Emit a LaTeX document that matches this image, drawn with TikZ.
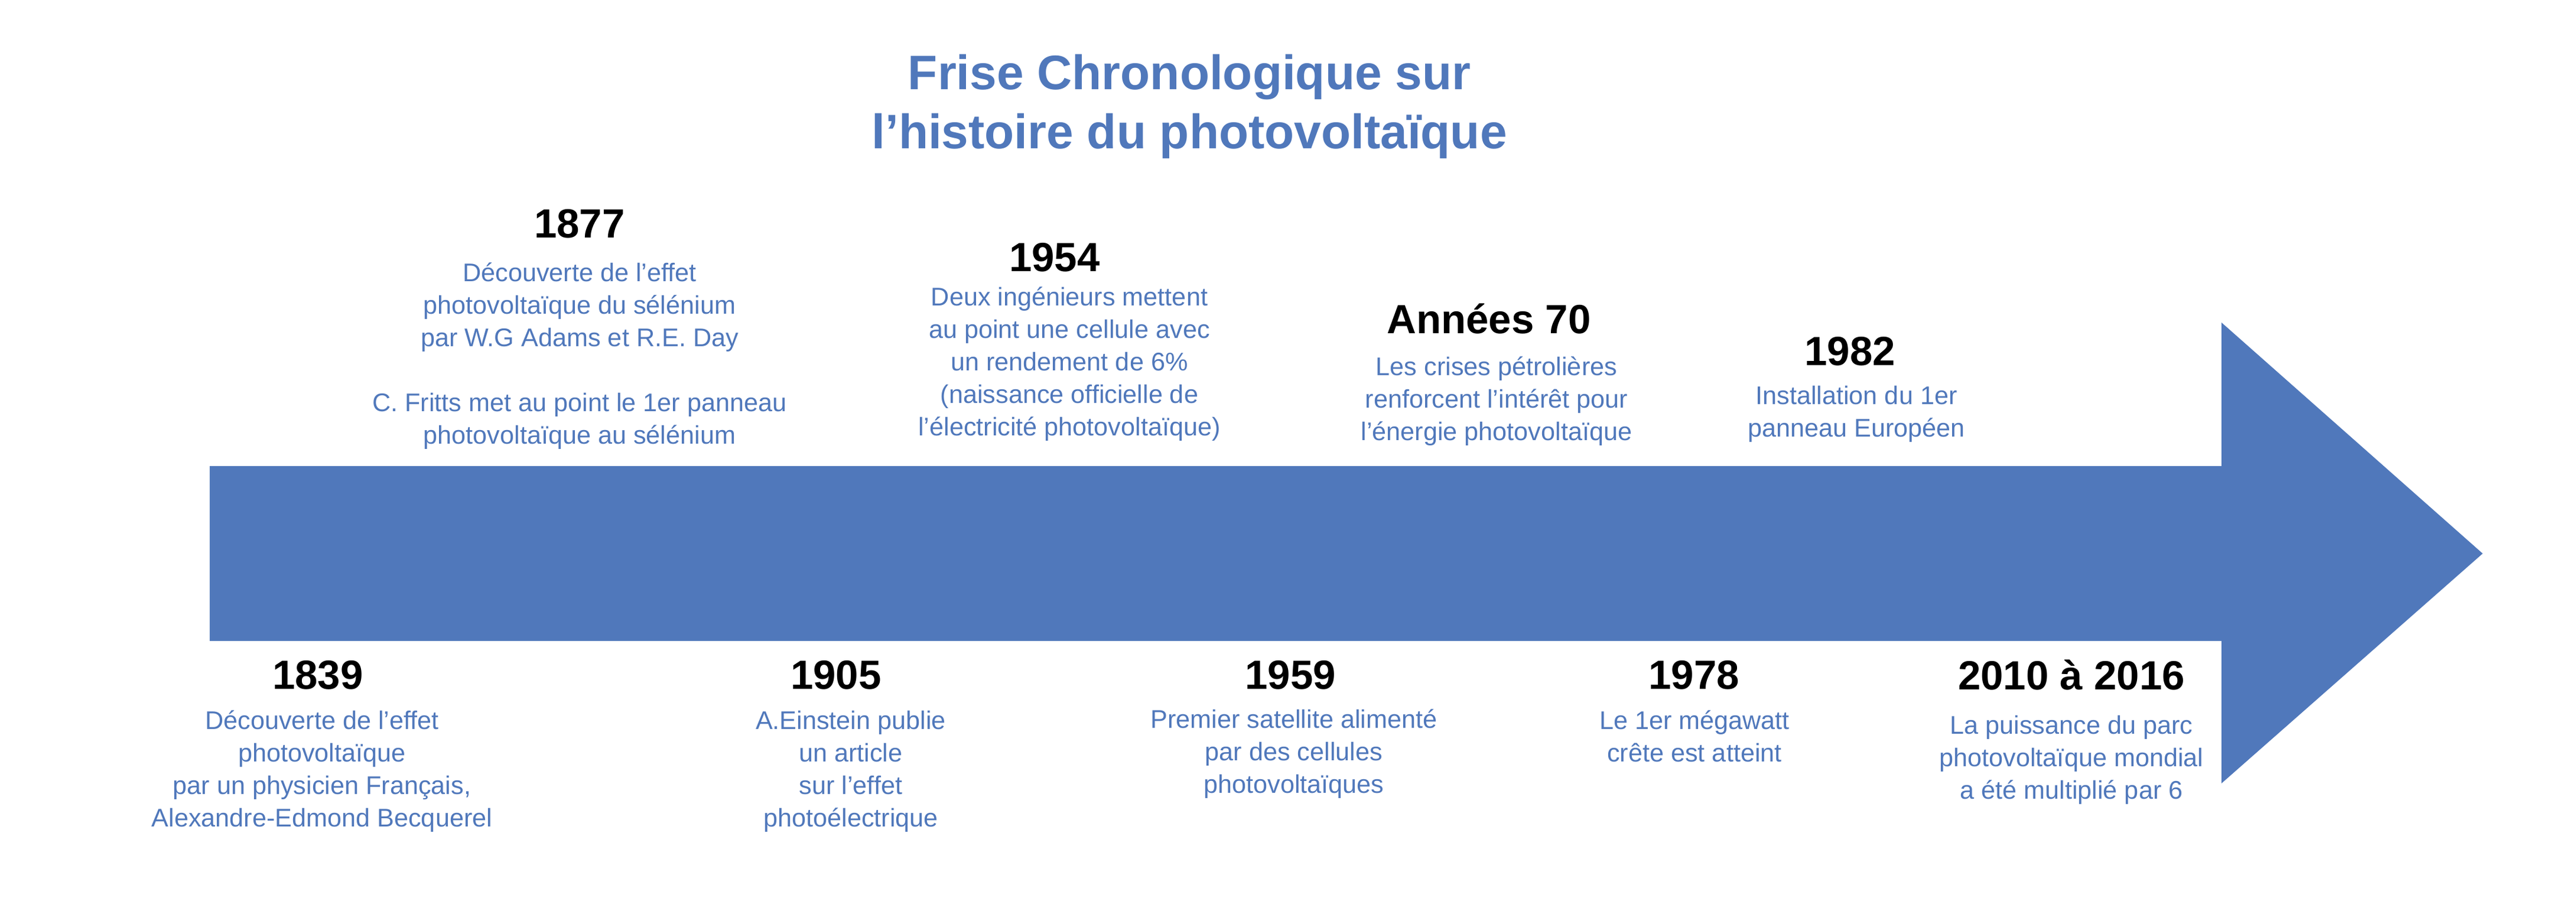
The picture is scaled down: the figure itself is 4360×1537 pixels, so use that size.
\documentclass[tikz,border=0pt]{standalone}
\usepackage{fontspec}
\setmainfont{Liberation Sans}
\definecolor{pvblue}{RGB}{80,120,187}
\newcommand\pvlines[1]{\begin{tabular}[t]{@{}c@{}}#1\end{tabular}}
\begin{document}
\begin{tikzpicture}[x=0.25pt,y=-0.25pt,
  titletext/.style={anchor=base,inner sep=0pt,text=pvblue,font=\fontsize{20.5pt}{25pt}\selectfont\bfseries},
  yeartext/.style={anchor=base,inner sep=0pt,text=black,font=\fontsize{17.25pt}{21pt}\selectfont\bfseries},
  desctext/.style={anchor=base,inner sep=0pt,text=pvblue,font=\fontsize{10.8pt}{13.75pt}\selectfont}]
\useasboundingbox (0,0) rectangle (4360,1537);
% big arrow
\fill[pvblue] (355,789) -- (3760,789) -- (3760,546) -- (4202,937) -- (3760,1326) -- (3760,1085) -- (355,1085) -- cycle;
% title
\node[titletext] (title) at (2013,152) {\pvlines{Frise Chronologique sur\\l’histoire du photovoltaïque}};
% upper events
\node[yeartext] (y1877) at (981,403) {1877};
\node[desctext] (d1877) at (981,477) {\pvlines{Découverte de l’effet\\photovoltaïque du sélénium\\par W.G Adams et R.E. Day\\ \\C. Fritts met au point le 1er panneau\\photovoltaïque au sélénium}};
\node[yeartext] (y1954) at (1785,460) {1954};
\node[desctext] (d1954) at (1810,518) {\pvlines{Deux ingénieurs mettent\\au point une cellule avec\\un rendement de 6\%\\(naissance officielle de\\l’électricité photovoltaïque)}};
\node[yeartext] (y1970) at (2520,565) {Années 70};
\node[desctext] (d1970) at (2533,636) {\pvlines{Les crises pétrolières\\renforcent l’intérêt pour\\l’énergie photovoltaïque}};
\node[yeartext] (y1982) at (3131,619) {1982};
\node[desctext] (d1982) at (3142,685) {\pvlines{Installation du 1er\\panneau Européen}};
% lower events
\node[yeartext] (y1839) at (538,1167) {1839};
\node[desctext] (d1839) at (545,1235) {\pvlines{Découverte de l’effet\\photovoltaïque\\par un physicien Français,\\Alexandre-Edmond Becquerel}};
\node[yeartext] (y1905) at (1415,1167) {1905};
\node[desctext] (d1905) at (1440,1235) {\pvlines{A.Einstein publie\\un article\\sur l’effet\\photoélectrique}};
\node[yeartext] (y1959) at (2184,1167) {1959};
\node[desctext] (d1959) at (2190,1233) {\pvlines{Premier satellite alimenté\\par des cellules\\photovoltaïques}};
\node[yeartext] (y1978) at (2867,1167) {1978};
\node[desctext] (d1978) at (2868,1235) {\pvlines{Le 1er mégawatt\\crête est atteint}};
\node[yeartext] (y2010) at (3506,1168) {2010 à 2016};
\node[desctext] (d2010) at (3506,1243) {\pvlines{La puissance du parc\\photovoltaïque mondial\\a été multiplié par 6}};
\end{tikzpicture}
\end{document}
